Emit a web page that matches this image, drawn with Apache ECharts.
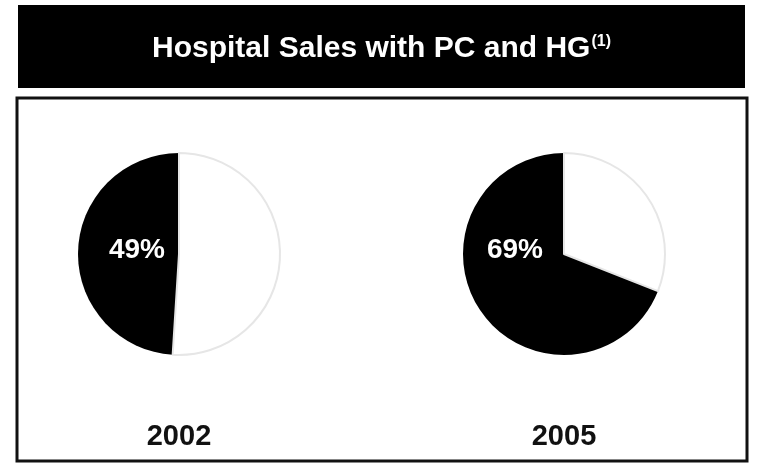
<!DOCTYPE html>
<html>
<head>
<meta charset="utf-8">
<script src="https://cdn.jsdelivr.net/npm/echarts@6/dist/echarts.min.js"></script>
<style>
  html, body { margin: 0; padding: 0; background: #fff; }
  #chart { width: 763px; height: 465px; }
</style>
</head>
<body>
<div id="chart"></div>
<script>
// data
const years = ["2002", "2005"];
const withPcHg = [49, 69];
const withoutPcHg = [51, 31];
const pieX = [179, 564];
const pieY = 254;
const labelShift = [[-42, -4], [-49, -4]];

const chart = echarts.init(document.getElementById("chart"));

const FONT = "'Liberation Sans', Arial, sans-serif";

const series = years.map(function (y, i) {
    return {
        type: "pie",
        name: y,
        center: [pieX[i], pieY],
        radius: 101,
        startAngle: 90,
        clockwise: false,
        silent: true,
        animation: false,
        label: { show: false },
        labelLine: { show: false },
        labelLayout: { dx: labelShift[i][0], dy: labelShift[i][1] },
        data: [
            {
                value: withPcHg[i],
                itemStyle: { color: "#000" },
                label: {
                    show: true,
                    position: "center",
                    formatter: "{c}%",
                    color: "#fff",
                    fontFamily: FONT,
                    fontWeight: "bold",
                    fontSize: 28
                }
            },
            {
                value: withoutPcHg[i],
                itemStyle: { color: "#fff", borderColor: "#e6e6e6", borderWidth: 2 }
            }
        ]
    };
});

const option = {
    backgroundColor: "#fff",
    graphic: [
        // title bar
        { type: "rect", shape: { x: 18, y: 5, width: 727, height: 83 }, style: { fill: "#000" }, z: -1 },
        // frame round the pies
        { type: "rect", shape: { x: 17, y: 98, width: 730, height: 363 }, style: { fill: "#fff", stroke: "#111", lineWidth: 3 }, z: -1 }
    ].concat(years.map(function (y, i) {
        return {
            type: "text",
            x: pieX[i],
            y: 437,
            style: {
                text: y,
                fill: "#111",
                font: "bold 29px " + FONT,
                textAlign: "center",
                textVerticalAlign: "middle"
            }
        };
    })),
    title: {
        text: "{m|Hospital Sales with PC and HG}{s|(1)}",
        left: "center",
        top: 29,
        textStyle: {
            rich: {
                m: { color: "#fff", fontFamily: FONT, fontWeight: "bold", fontSize: 30, verticalAlign: "bottom" },
                s: { color: "#fff", fontFamily: FONT, fontWeight: "bold", fontSize: 16, verticalAlign: "top", padding: [0, 0, 13, 1] }
            }
        }
    },
    series: series
};

chart.setOption(option);
</script>
</body>
</html>
